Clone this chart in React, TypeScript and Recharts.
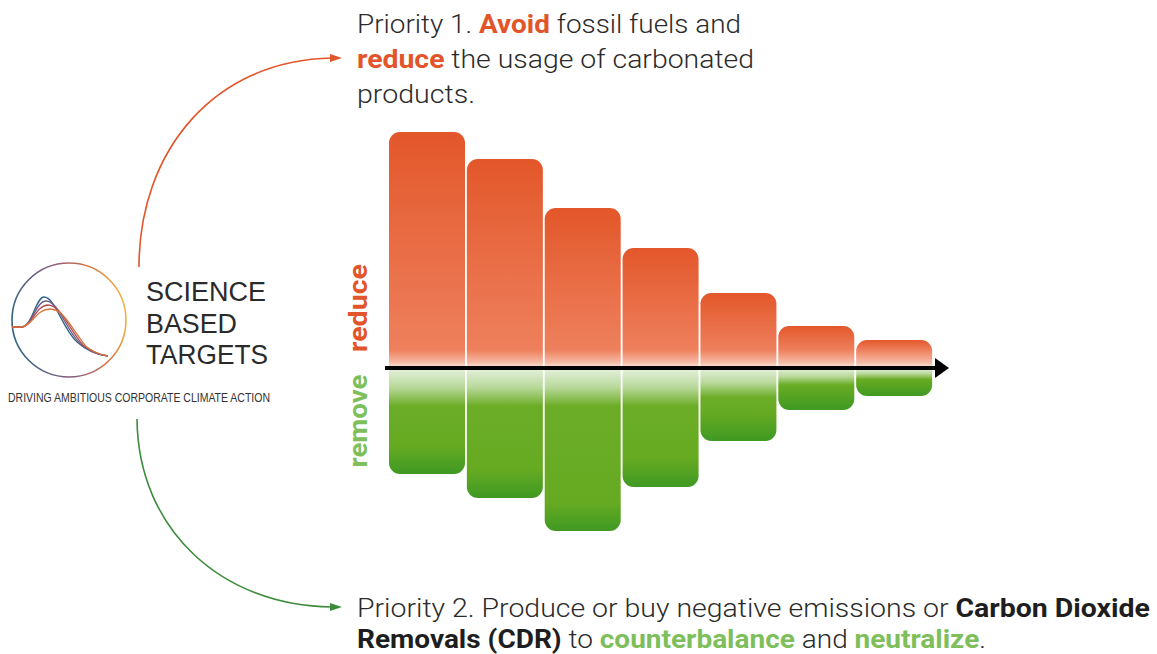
import React from 'react'
import { BarChart, Bar, XAxis, YAxis, ReferenceLine } from 'recharts'

const categories = ['1', '2', '3', '4', '5', '6', '7']
const reduceValues = [236, 209, 160, 120, 75, 42, 28]
const removeValues = [-106, -130, -163, -119, -73, -42, -28]
const yDomain = [-200, 260]

const ORANGE = '#E2552A'
const GREEN_TEXT = '#7EBF5C'

const data = categories.map((name, i) => ({
    name,
    reduce: reduceValues[i],
    remove: removeValues[i],
}))

// rounded rect, corners on top or bottom only
function barPath(x: number, y: number, w: number, h: number, r: number, roundTop: boolean) {
    if (roundTop) {
        return `M${x},${y + h} L${x},${y + r} A${r},${r} 0 0 1 ${x + r},${y} L${x + w - r},${y} A${r},${r} 0 0 1 ${x + w},${y + r} L${x + w},${y + h} Z`
    }
    return `M${x},${y} L${x + w},${y} L${x + w},${y + h - r} A${r},${r} 0 0 1 ${x + w - r},${y + h} L${x + r},${y + h} A${r},${r} 0 0 1 ${x},${y + h - r} Z`
}

function ReduceShape(props: any) {
    const { x, y, width, height, index } = props
    const top = Math.min(y, y + height)
    const h = Math.abs(height)
    if (!h) return null
    const r = Math.min(11, h / 2)
    const id = `reduce-grad-${index}`
    const fadeStart = Math.max(0.05, (h - 18) / h)
    return (
        <g>
            <defs>
                <linearGradient id={id} gradientUnits="userSpaceOnUse" x1={0} y1={top} x2={0} y2={top + h}>
                    <stop offset={0} stopColor="#E3572A" />
                    <stop offset={fadeStart} stopColor="#EE805D" />
                    <stop offset={Math.min(0.99, (h - 6) / h)} stopColor="#F5B8A2" />
                    <stop offset={1} stopColor="#FBE7DF" />
                </linearGradient>
            </defs>
            <path d={barPath(x, top, width, h, r, true)} fill={`url(#${id})`} />
        </g>
    )
}

function RemoveShape(props: any) {
    const { x, y, width, height, index } = props
    const top = Math.min(y, y + height)
    const h = Math.abs(height)
    if (!h) return null
    const r = Math.min(11, h / 2)
    const id = `remove-grad-${index}`
    const fade = Math.min(38, h * 0.4) / h
    const dark = Math.max(fade + 0.05, (h - 28) / h)
    return (
        <g>
            <defs>
                <linearGradient id={id} gradientUnits="userSpaceOnUse" x1={0} y1={top} x2={0} y2={top + h}>
                    <stop offset={0} stopColor="#E6F1DC" />
                    <stop offset={fade * 0.5} stopColor="#B9D99C" />
                    <stop offset={fade} stopColor="#6CAD27" />
                    <stop offset={dark} stopColor="#66AA22" />
                    <stop offset={1} stopColor="#3F9923" />
                </linearGradient>
            </defs>
            <path d={barPath(x, top, width, h, r, false)} fill={`url(#${id})`} />
        </g>
    )
}

function AxisArrow(props: any) {
    const { x1, y1, x2 } = props
    return (
        <g>
            <line x1={x1 - 3} y1={y1} x2={x2 + 4} y2={y1} stroke="#000" strokeWidth={4} />
            <polygon points={`${x2 + 2},${y1 - 10} ${x2 + 16},${y1} ${x2 + 2},${y1 + 10}`} fill="#000" />
        </g>
    )
}

const waveColors = ['#33658A', '#6E5A86', '#B24D55', '#D8733C']

function Decorations() {
    const body = { fontFamily: 'Roboto, sans-serif', fontSize: 26, fontWeight: 300, fill: '#2b2b2b' }
    return (
        <svg width={1157} height={654} style={{ position: 'absolute', left: 0, top: 0, pointerEvents: 'none' }}>
            <defs>
                <linearGradient id="logoRing" x1="0" y1="0.6" x2="1" y2="0.4">
                    <stop offset="0" stopColor="#2E6383" />
                    <stop offset="0.45" stopColor="#8B5C7E" />
                    <stop offset="0.75" stopColor="#D9703E" />
                    <stop offset="1" stopColor="#EEB64A" />
                </linearGradient>
            </defs>

            {/* arrows */}
            <path d="M139,267 C139,150 215,60 332,58" fill="none" stroke={ORANGE} strokeWidth={1.6} />
            <polygon points="330,54 342,58 330,62" fill={ORANGE} />
            <path d="M137,419 C138,530 222,606 332,607" fill="none" stroke="#3D8C3C" strokeWidth={1.6} />
            <polygon points="330,603 342,607 330,611" fill="#3D8C3C" />

            {/* logo */}
            <circle cx={69} cy={320} r={57} fill="none" stroke="url(#logoRing)" strokeWidth={1.6} />
            {waveColors.map((c, i) => (
                <path
                    key={c}
                    d={`M12,327 L22,327 C32,326 36,${297 + i * 4} ${44 + i * 2},${297 + i * 4} C${55 + i * 3},${297 + i * 4} ${62 + i * 3},328 ${77 + i * 3},${342 + i * 1.5} C${86 + i * 3},${350 + i} ${95 + i * 2},355 108,356`}
                    fill="none"
                    stroke={c}
                    strokeWidth={1.3}
                />
            ))}
            <g style={{ fontFamily: '"Liberation Sans", Arial, sans-serif', fontSize: 27, fill: '#2a2a2a' }}>
                <text x={146} y={301} textLength={120} lengthAdjust="spacingAndGlyphs">SCIENCE</text>
                <text x={146} y={333} textLength={91} lengthAdjust="spacingAndGlyphs">BASED</text>
                <text x={146} y={364} textLength={122} lengthAdjust="spacingAndGlyphs">TARGETS</text>
            </g>
            <text
                x={8}
                y={402}
                textLength={262}
                lengthAdjust="spacingAndGlyphs"
                style={{ fontFamily: '"Liberation Sans", Arial, sans-serif', fontSize: 12, fill: '#333' }}
            >
                DRIVING AMBITIOUS CORPORATE CLIMATE ACTION
            </text>

            {/* side labels */}
            <text
                transform="translate(367,308) rotate(-90)"
                textAnchor="middle"
                textLength={88}
                lengthAdjust="spacingAndGlyphs"
                style={{ fontFamily: 'Roboto, sans-serif', fontSize: 25, fontWeight: 700, fill: ORANGE }}
            >
                reduce
            </text>
            <text
                transform="translate(367,421) rotate(-90)"
                textAnchor="middle"
                textLength={93}
                lengthAdjust="spacingAndGlyphs"
                style={{ fontFamily: 'Roboto, sans-serif', fontSize: 25, fontWeight: 700, fill: GREEN_TEXT }}
            >
                remove
            </text>

            {/* priority 1 */}
            <text x={357} y={33} textLength={384} lengthAdjust="spacingAndGlyphs" style={body}>
                Priority 1.{' '}
                <tspan fontWeight={700} fill={ORANGE}>Avoid</tspan> fossil fuels and
            </text>
            <text x={357} y={68} textLength={397} lengthAdjust="spacingAndGlyphs" style={body}>
                <tspan fontWeight={700} fill={ORANGE}>reduce</tspan> the usage of carbonated
            </text>
            <text x={357} y={103} textLength={118} lengthAdjust="spacingAndGlyphs" style={body}>
                products.
            </text>

            {/* priority 2 */}
            <text x={357} y={617} textLength={793} lengthAdjust="spacingAndGlyphs" style={body}>
                Priority 2. Produce or buy negative emissions or{' '}
                <tspan fontWeight={700} fill="#1e1e1e">Carbon Dioxide</tspan>
            </text>
            <text x={357} y={648} textLength={629} lengthAdjust="spacingAndGlyphs" style={body}>
                <tspan fontWeight={700} fill="#1e1e1e">Removals (CDR)</tspan> to{' '}
                <tspan fontWeight={700} fill={GREEN_TEXT}>counterbalance</tspan> and{' '}
                <tspan fontWeight={700} fill={GREEN_TEXT}>neutralize</tspan>.
            </text>
        </svg>
    )
}

export default function App() {
    return (
        <div style={{ position: 'absolute', left: 0, top: 0, width: 1157, height: 654, background: '#fff' }}>
            <BarChart
                width={1157}
                height={654}
                data={data}
                stackOffset="sign"
                barCategoryGap={1}
                margin={{ top: 108, right: 224, bottom: 86, left: 388 }}
            >
                <XAxis dataKey="name" hide />
                <YAxis type="number" domain={yDomain} hide />
                <Bar dataKey="reduce" stackId="s" shape={ReduceShape} isAnimationActive={false} />
                <Bar dataKey="remove" stackId="s" shape={RemoveShape} isAnimationActive={false} />
                <ReferenceLine y={0} shape={AxisArrow} />
            </BarChart>
            <Decorations />
        </div>
    )
}
